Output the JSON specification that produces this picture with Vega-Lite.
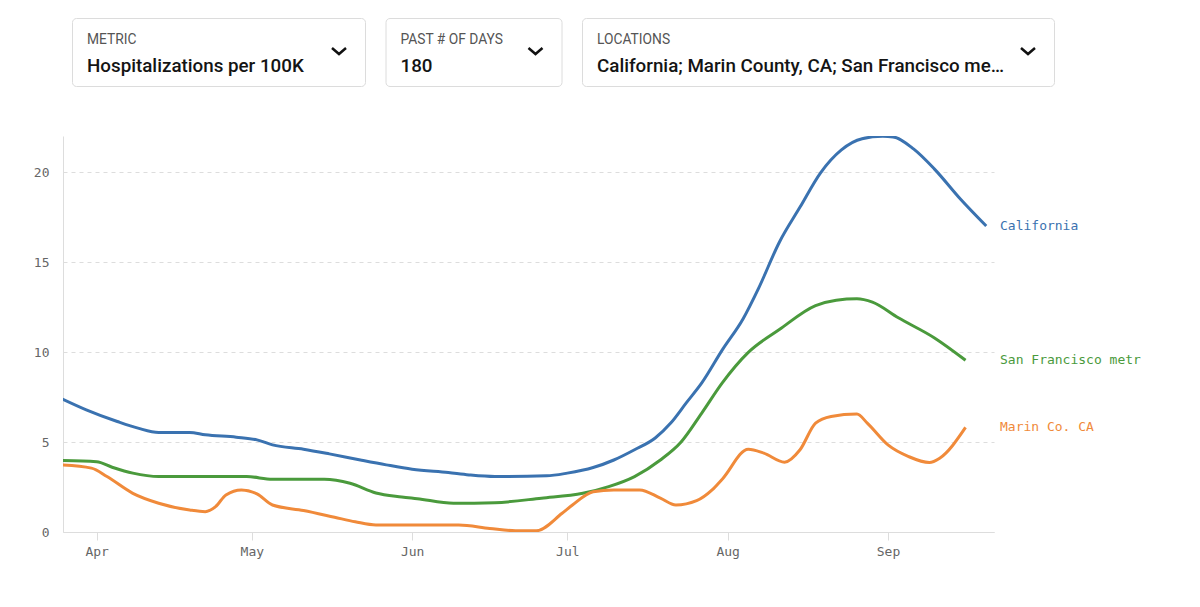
{
  "$schema": "https://vega.github.io/schema/vega-lite/v6.json",
  "padding": {"left": 33, "top": 17, "right": 5, "bottom": 5},
  "background": "white",
  "config": {"view": {"stroke": null}},
  "spacing": 49,
  "vconcat": [
    {
      "spacing": 4,
      "hconcat": [
        {
          "width": 1, "height": 68,
          "data": {"values": [{"menu": ""}]},
          "mark": {"type": "point", "opacity": 0},
          "view": {"stroke": null}
        },
        {
          "spacing": 18.5,
          "hconcat": [
            {
              "width": 293, "height": 68,
              "view": {"stroke": "#dcdcdc", "cornerRadius": 4, "fill": "white"},
              "data": {"values": [{"menu": "METRIC", "choice": "Hospitalizations per 100K"}]},
              "encoding": {"x": {"datum": 0, "type": "quantitative", "scale": {"domain": [0, 1]}, "axis": null}},
              "layer": [
                {"mark": {"type": "text", "align": "left", "baseline": "alphabetic", "dx": 15, "dy": -8, "font": "Roboto", "fontSize": 13.8, "color": "#555555"}, "encoding": {"text": {"field": "menu"}}},
                {"mark": {"type": "text", "align": "left", "baseline": "alphabetic", "dx": 15, "dy": 20, "font": "Roboto", "fontSize": 18.8, "fontWeight": 500, "color": "#141414"}, "encoding": {"text": {"field": "choice"}}},
                {"mark": {"type": "point", "shape": "M-33,-4L-26,2L-19,-4", "size": 4, "filled": false, "stroke": "#111111", "strokeWidth": 2.5, "opacity": 1}, "encoding": {"x": {"datum": 1, "type": "quantitative"}}}
              ]
            },
            {
              "width": 176, "height": 68,
              "view": {"stroke": "#dcdcdc", "cornerRadius": 4, "fill": "white"},
              "data": {"values": [{"menu": "PAST # OF DAYS", "choice": "180"}]},
              "encoding": {"x": {"datum": 0, "type": "quantitative", "scale": {"domain": [0, 1]}, "axis": null}},
              "layer": [
                {"mark": {"type": "text", "align": "left", "baseline": "alphabetic", "dx": 15, "dy": -8, "font": "Roboto", "fontSize": 13.8, "color": "#555555"}, "encoding": {"text": {"field": "menu"}}},
                {"mark": {"type": "text", "align": "left", "baseline": "alphabetic", "dx": 15, "dy": 20, "font": "Roboto", "fontSize": 18.8, "fontWeight": 500, "color": "#141414"}, "encoding": {"text": {"field": "choice"}}},
                {"mark": {"type": "point", "shape": "M-33,-4L-26,2L-19,-4", "size": 4, "filled": false, "stroke": "#111111", "strokeWidth": 2.5, "opacity": 1}, "encoding": {"x": {"datum": 1, "type": "quantitative"}}}
              ]
            },
            {
              "width": 472, "height": 68,
              "view": {"stroke": "#dcdcdc", "cornerRadius": 4, "fill": "white"},
              "data": {"values": [{"menu": "LOCATIONS", "choice": "California; Marin County, CA; San Francisco me…"}]},
              "encoding": {"x": {"datum": 0, "type": "quantitative", "scale": {"domain": [0, 1]}, "axis": null}},
              "layer": [
                {"mark": {"type": "text", "align": "left", "baseline": "alphabetic", "dx": 15, "dy": -8, "font": "Roboto", "fontSize": 13.8, "color": "#555555"}, "encoding": {"text": {"field": "menu"}}},
                {"mark": {"type": "text", "align": "left", "baseline": "alphabetic", "dx": 15, "dy": 20, "font": "Roboto", "fontSize": 18.8, "fontWeight": 500, "color": "#141414"}, "encoding": {"text": {"field": "choice"}}},
                {"mark": {"type": "point", "shape": "M-33,-4L-26,2L-19,-4", "size": 4, "filled": false, "stroke": "#111111", "strokeWidth": 2.5, "opacity": 1}, "encoding": {"x": {"datum": 1, "type": "quantitative"}}}
              ]
            }
          ]
        }
      ]
    },
    {
      "width": 931,
      "height": 396,
      "data": {
        "format": {"parse": {"date": "date:'%Y-%m-%d'"}},
        "values": [
          {"series": "California", "date": "2021-03-25", "value": 7.44},
          {"series": "California", "date": "2021-03-30", "value": 6.79},
          {"series": "California", "date": "2021-04-05", "value": 6.14},
          {"series": "California", "date": "2021-04-09", "value": 5.77},
          {"series": "California", "date": "2021-04-13", "value": 5.53},
          {"series": "California", "date": "2021-04-19", "value": 5.53},
          {"series": "California", "date": "2021-04-22", "value": 5.40},
          {"series": "California", "date": "2021-04-28", "value": 5.27},
          {"series": "California", "date": "2021-05-02", "value": 5.12},
          {"series": "California", "date": "2021-05-05", "value": 4.84},
          {"series": "California", "date": "2021-05-11", "value": 4.60},
          {"series": "California", "date": "2021-05-16", "value": 4.34},
          {"series": "California", "date": "2021-05-22", "value": 4.00},
          {"series": "California", "date": "2021-05-27", "value": 3.73},
          {"series": "California", "date": "2021-06-01", "value": 3.49},
          {"series": "California", "date": "2021-06-08", "value": 3.30},
          {"series": "California", "date": "2021-06-12", "value": 3.17},
          {"series": "California", "date": "2021-06-17", "value": 3.08},
          {"series": "California", "date": "2021-06-27", "value": 3.12},
          {"series": "California", "date": "2021-07-01", "value": 3.27},
          {"series": "California", "date": "2021-07-06", "value": 3.58},
          {"series": "California", "date": "2021-07-10", "value": 4.00},
          {"series": "California", "date": "2021-07-14", "value": 4.57},
          {"series": "California", "date": "2021-07-18", "value": 5.22},
          {"series": "California", "date": "2021-07-21", "value": 6.05},
          {"series": "California", "date": "2021-07-24", "value": 7.17},
          {"series": "California", "date": "2021-07-27", "value": 8.28},
          {"series": "California", "date": "2021-07-31", "value": 10.13},
          {"series": "California", "date": "2021-08-04", "value": 11.85},
          {"series": "California", "date": "2021-08-07", "value": 13.55},
          {"series": "California", "date": "2021-08-11", "value": 16.10},
          {"series": "California", "date": "2021-08-15", "value": 18.05},
          {"series": "California", "date": "2021-08-19", "value": 19.97},
          {"series": "California", "date": "2021-08-23", "value": 21.23},
          {"series": "California", "date": "2021-08-27", "value": 21.85},
          {"series": "California", "date": "2021-08-31", "value": 21.98},
          {"series": "California", "date": "2021-09-02", "value": 21.95},
          {"series": "California", "date": "2021-09-06", "value": 21.27},
          {"series": "California", "date": "2021-09-10", "value": 20.16},
          {"series": "California", "date": "2021-09-15", "value": 18.50},
          {"series": "California", "date": "2021-09-20", "value": 17.00},

          {"series": "San Francisco metro", "date": "2021-03-25", "value": 3.97},
          {"series": "San Francisco metro", "date": "2021-04-01", "value": 3.90},
          {"series": "San Francisco metro", "date": "2021-04-04", "value": 3.60},
          {"series": "San Francisco metro", "date": "2021-04-08", "value": 3.27},
          {"series": "San Francisco metro", "date": "2021-04-13", "value": 3.08},
          {"series": "San Francisco metro", "date": "2021-04-30", "value": 3.08},
          {"series": "San Francisco metro", "date": "2021-05-05", "value": 2.93},
          {"series": "San Francisco metro", "date": "2021-05-15", "value": 2.93},
          {"series": "San Francisco metro", "date": "2021-05-20", "value": 2.71},
          {"series": "San Francisco metro", "date": "2021-05-25", "value": 2.17},
          {"series": "San Francisco metro", "date": "2021-05-30", "value": 1.95},
          {"series": "San Francisco metro", "date": "2021-06-02", "value": 1.85},
          {"series": "San Francisco metro", "date": "2021-06-09", "value": 1.60},
          {"series": "San Francisco metro", "date": "2021-06-17", "value": 1.63},
          {"series": "San Francisco metro", "date": "2021-06-26", "value": 1.88},
          {"series": "San Francisco metro", "date": "2021-07-04", "value": 2.15},
          {"series": "San Francisco metro", "date": "2021-07-09", "value": 2.52},
          {"series": "San Francisco metro", "date": "2021-07-14", "value": 3.08},
          {"series": "San Francisco metro", "date": "2021-07-19", "value": 4.00},
          {"series": "San Francisco metro", "date": "2021-07-23", "value": 5.00},
          {"series": "San Francisco metro", "date": "2021-07-27", "value": 6.61},
          {"series": "San Francisco metro", "date": "2021-07-31", "value": 8.30},
          {"series": "San Francisco metro", "date": "2021-08-05", "value": 9.98},
          {"series": "San Francisco metro", "date": "2021-08-11", "value": 11.25},
          {"series": "San Francisco metro", "date": "2021-08-18", "value": 12.58},
          {"series": "San Francisco metro", "date": "2021-08-22", "value": 12.88},
          {"series": "San Francisco metro", "date": "2021-08-26", "value": 12.96},
          {"series": "San Francisco metro", "date": "2021-08-29", "value": 12.77},
          {"series": "San Francisco metro", "date": "2021-09-03", "value": 11.90},
          {"series": "San Francisco metro", "date": "2021-09-10", "value": 10.78},
          {"series": "San Francisco metro", "date": "2021-09-16", "value": 9.54},

          {"series": "Marin Co. CA", "date": "2021-03-25", "value": 3.73},
          {"series": "Marin Co. CA", "date": "2021-03-31", "value": 3.55},
          {"series": "Marin Co. CA", "date": "2021-04-03", "value": 3.08},
          {"series": "Marin Co. CA", "date": "2021-04-08", "value": 2.15},
          {"series": "Marin Co. CA", "date": "2021-04-13", "value": 1.60},
          {"series": "Marin Co. CA", "date": "2021-04-19", "value": 1.22},
          {"series": "Marin Co. CA", "date": "2021-04-22", "value": 1.13},
          {"series": "Marin Co. CA", "date": "2021-04-24", "value": 1.41},
          {"series": "Marin Co. CA", "date": "2021-04-26", "value": 2.06},
          {"series": "Marin Co. CA", "date": "2021-04-29", "value": 2.34},
          {"series": "Marin Co. CA", "date": "2021-05-02", "value": 2.12},
          {"series": "Marin Co. CA", "date": "2021-05-05", "value": 1.50},
          {"series": "Marin Co. CA", "date": "2021-05-11", "value": 1.19},
          {"series": "Marin Co. CA", "date": "2021-05-17", "value": 0.82},
          {"series": "Marin Co. CA", "date": "2021-05-21", "value": 0.57},
          {"series": "Marin Co. CA", "date": "2021-05-25", "value": 0.39},
          {"series": "Marin Co. CA", "date": "2021-06-10", "value": 0.39},
          {"series": "Marin Co. CA", "date": "2021-06-16", "value": 0.20},
          {"series": "Marin Co. CA", "date": "2021-06-21", "value": 0.07},
          {"series": "Marin Co. CA", "date": "2021-06-25", "value": 0.07},
          {"series": "Marin Co. CA", "date": "2021-06-30", "value": 1.04},
          {"series": "Marin Co. CA", "date": "2021-07-02", "value": 1.50},
          {"series": "Marin Co. CA", "date": "2021-07-06", "value": 2.24},
          {"series": "Marin Co. CA", "date": "2021-07-10", "value": 2.34},
          {"series": "Marin Co. CA", "date": "2021-07-15", "value": 2.34},
          {"series": "Marin Co. CA", "date": "2021-07-19", "value": 1.88},
          {"series": "Marin Co. CA", "date": "2021-07-22", "value": 1.50},
          {"series": "Marin Co. CA", "date": "2021-07-26", "value": 1.74},
          {"series": "Marin Co. CA", "date": "2021-07-29", "value": 2.34},
          {"series": "Marin Co. CA", "date": "2021-07-31", "value": 2.95},
          {"series": "Marin Co. CA", "date": "2021-08-05", "value": 4.60},
          {"series": "Marin Co. CA", "date": "2021-08-08", "value": 4.38},
          {"series": "Marin Co. CA", "date": "2021-08-12", "value": 3.88},
          {"series": "Marin Co. CA", "date": "2021-08-15", "value": 4.57},
          {"series": "Marin Co. CA", "date": "2021-08-18", "value": 6.05},
          {"series": "Marin Co. CA", "date": "2021-08-21", "value": 6.42},
          {"series": "Marin Co. CA", "date": "2021-08-26", "value": 6.55},
          {"series": "Marin Co. CA", "date": "2021-08-28", "value": 6.05},
          {"series": "Marin Co. CA", "date": "2021-09-01", "value": 4.84},
          {"series": "Marin Co. CA", "date": "2021-09-05", "value": 4.19},
          {"series": "Marin Co. CA", "date": "2021-09-09", "value": 3.86},
          {"series": "Marin Co. CA", "date": "2021-09-11", "value": 4.10},
          {"series": "Marin Co. CA", "date": "2021-09-16", "value": 5.81}
        ]
      },
      "encoding": {
        "x": {
          "field": "date", "type": "temporal",
          "scale": {"domain": [{"year": 2021, "month": 3, "date": 25, "hours": 12}, {"year": 2021, "month": 9, "date": 21, "hours": 12}]},
          "axis": {"title": null, "format": "%b", "tickCount": {"interval": "month", "step": 1}, "grid": false, "domainColor": "#dddddd", "tickColor": "#dddddd", "tickSize": 8, "labelFont": "DejaVu Sans Mono", "labelFontSize": 13, "labelColor": "#666666", "labelPadding": 5, "labelFlush": false}
        },
        "y": {
          "field": "value", "type": "quantitative",
          "scale": {"domain": [0, 22], "nice": false},
          "axis": {"title": null, "values": [0, 5, 10, 15, 20], "grid": true, "gridDash": [4, 4], "gridColor": "#dddddd", "ticks": false, "domainColor": "#dddddd", "labelPadding": 14, "labelFont": "DejaVu Sans Mono", "labelFontSize": 13, "labelColor": "#666666"}
        },
        "color": {
          "field": "series", "type": "nominal",
          "scale": {"domain": ["California", "San Francisco metro", "Marin Co. CA"], "range": ["#3a72b0", "#4a9a3c", "#f08a3a"]},
          "legend": null
        }
      },
      "layer": [
        {"mark": {"type": "line", "interpolate": "monotone", "strokeWidth": 3, "clip": true}},
        {
          "transform": [
            {"joinaggregate": [{"op": "max", "field": "date", "as": "last"}], "groupby": ["series"]},
            {"filter": "time(datum.date) === time(datum.last)"}
          ],
          "mark": {"type": "text", "align": "left", "baseline": "middle", "dx": 6, "font": "DejaVu Sans Mono", "fontSize": 13, "limit": 142, "ellipsis": "\u200b"},
          "encoding": {
            "x": {"datum": {"year": 2021, "month": 9, "date": 21, "hours": 12}, "type": "temporal"},
            "text": {"field": "series"}
          }
        }
      ]
    }
  ]
}
